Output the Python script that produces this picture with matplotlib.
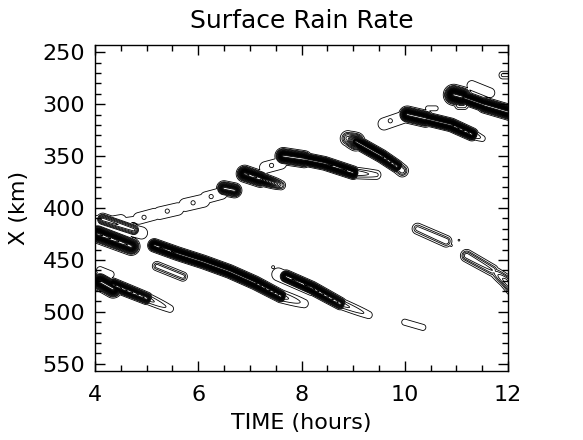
import numpy as np
import matplotlib.pyplot as plt
from matplotlib.ticker import MultipleLocator

# rain streaks, one row per straight piece:
# start time (h), start x (km), end time, end x, peak at start, peak at end, half-width (km)
seg_t0 = [4.15, 4.85, 5.25, 5.75, 6.15, 4.45, 5.10, 5.55, 6.05, 7.30,
          4.95, 5.40, 5.90, 6.25, 7.42,
          6.50, 6.90, 7.20,
          7.65, 8.05, 8.45, 9.00,
          8.90, 9.05, 9.55, 9.85,
          9.60, 9.72, 10.05, 10.40, 10.90, 11.30, 10.45,
          10.95, 11.10, 11.55, 11.05, 11.30, 11.90,
          4.15, 4.05, 4.05,
          5.15, 5.60, 6.10, 6.60, 7.10, 7.60,
          7.45, 7.55, 7.70, 8.20, 8.75,
          4.10, 4.35, 5.00, 4.10,
          5.20,
          10.25, 10.90, 11.05, 11.20, 11.70, 11.95,
          10.00]
seg_x0 = [415, 410, 405, 397, 390, 413, 407, 400, 393, 361,
          409, 403, 395, 389, 359,
          381, 367, 372,
          350, 353, 357, 366,
          333, 336, 350, 360,
          319, 316, 310, 314, 320, 329, 304,
          291, 293, 301, 301, 282, 272,
          411, 413, 425,
          436, 444, 452, 461, 472, 485,
          457, 464, 466, 477, 492,
          471, 474, 487, 460,
          456,
          420, 436, 431, 446, 460, 470,
          510]
seg_t1 = [4.50, 5.15, 5.60, 6.10, 6.45, 4.90, 5.30, 5.80, 6.20, 7.60,
          4.95, 5.40, 5.90, 6.25, 7.42,
          6.70, 7.20, 7.60,
          8.05, 8.45, 9.00, 9.45,
          9.05, 9.55, 9.85, 9.95,
          9.95, 9.72, 10.40, 10.90, 11.30, 11.50, 10.60,
          11.10, 11.55, 12.10, 11.15, 11.65, 12.00,
          4.75, 4.90, 4.70,
          5.60, 6.10, 6.60, 7.10, 7.60, 8.05,
          7.45, 8.20, 8.20, 8.75, 9.30,
          4.35, 5.00, 5.45, 4.30,
          5.70,
          10.80, 10.90, 11.05, 11.70, 11.95, 12.10,
          10.35]
seg_x1 = [412, 406, 401, 393, 386, 410, 405, 397, 390, 357,
          409, 403, 395, 389, 359,
          383, 372, 378,
          353, 357, 366, 368,
          336, 350, 360, 364,
          313, 316, 314, 320, 329, 333, 304,
          293, 301, 309, 301, 289, 272,
          421, 424, 437,
          444, 452, 461, 472, 485, 492,
          457, 478, 477, 492, 503,
          478, 487, 497, 464,
          466,
          432, 436, 431, 460, 470, 479,
          515]
seg_p0 = [2.2, 2.2, 2.2, 2.2, 2.2, 1.4, 1.4, 1.4, 1.4, 2.2,
          3.5, 3.5, 3.5, 3.5, 3.5,
          30, 45, 40,
          45, 45, 45, 6,
          10, 40, 40, 8,
          2, 3.5, 45, 45, 45, 5, 2,
          55, 45, 45, 4, 2, 3,
          15, 2, 50,
          40, 45, 45, 45, 45, 5,
          1.6, 2.2, 35, 40, 5,
          45, 40, 5, 2,
          5,
          5, 1.5, 1.3, 8, 3, 10,
          2]
seg_p1 = [2.2, 2.2, 2.2, 2.2, 2.2, 1.4, 1.4, 1.4, 1.4, 2.2,
          3.5, 3.5, 3.5, 3.5, 3.5,
          30, 40, 6,
          45, 45, 40, 3,
          30, 40, 30, 8,
          2, 3.5, 45, 45, 35, 2, 2,
          55, 45, 45, 4, 2, 3,
          12, 2, 40,
          45, 45, 45, 45, 30, 2,
          1.6, 2.2, 40, 25, 2,
          45, 25, 2, 2,
          5,
          6, 1.5, 1.3, 6, 10, 10,
          2]
seg_w = [4.5, 4.5, 4.8, 5, 4.5, 3.5, 3.5, 3.5, 3.5, 4.5,
         2.5, 2.5, 2.5, 2.5, 2.5,
         2.8, 3, 2.4,
         3, 2.4, 2.4, 3,
         3.5, 2.4, 2.4, 3,
         5, 2.5, 3, 2.4, 2.4, 2.5, 2,
         3.6, 2.4, 2.8, 2.5, 4, 2.5,
         2.6, 5, 3.2,
         2.4, 2.4, 2.4, 2.4, 2.4, 3.5,
         1.5, 5, 2.4, 2.4, 3,
         3.2, 2.4, 3, 3,
         2.5,
         3, 1.2, 1.2, 3, 3, 3,
         2.5]

levels = [1, 2.5, 4] + list(np.arange(6, 80, 2.5))

t = np.linspace(4, 12, 800)
x = np.linspace(243, 557, 700)
T, X = np.meshgrid(t, x)
HOUR = 50.0  # one hour is about as wide on the page as 50 km is tall
U = T * HOUR

rain = np.zeros_like(T)
for t0, x0, t1, x1, p0, p1, w in zip(seg_t0, seg_x0, seg_t1, seg_x1, seg_p0, seg_p1, seg_w):
    au, bu = t0 * HOUR, t1 * HOUR
    du, dv = bu - au, x1 - x0
    n2 = du * du + dv * dv
    if n2 > 0:
        s = np.clip(((U - au) * du + (X - x0) * dv) / n2, 0, 1)
    else:
        s = np.zeros_like(U)
    d2 = (U - au - s * du) ** 2 + (X - x0 - s * dv) ** 2
    amp = p0 + s * (p1 - p0)
    rain = np.maximum(rain, amp * np.exp(-0.5 * d2 / w ** 2))

plt.rcParams['font.family'] = 'DejaVu Sans'
fig = plt.figure(figsize=(5.83, 4.40), dpi=100)
ax = fig.add_axes([95 / 583, 1 - 371 / 440, 413 / 583, 326 / 440])

ax.contour(T, X, rain, levels=levels, colors='k', linewidths=0.6)

ax.set_xlim(4, 12)
ax.set_ylim(557, 243)
ax.xaxis.set_major_locator(MultipleLocator(2))
ax.xaxis.set_minor_locator(MultipleLocator(0.5))
ax.yaxis.set_major_locator(MultipleLocator(50))
ax.yaxis.set_minor_locator(MultipleLocator(10))
ax.tick_params(which='both', direction='in', top=True, right=True, labelsize=16)
ax.tick_params(which='major', length=7, width=1, pad=7)
ax.tick_params(which='minor', length=4, width=1)
ax.tick_params(axis='x', which='major', pad=10)
for sp in ax.spines.values():
    sp.set_linewidth(1)

ax.set_title('Surface Rain Rate', fontsize=18, pad=12)
ax.set_xlabel('TIME (hours)', fontsize=16, labelpad=6)
ax.set_ylabel('X (km)', fontsize=16, labelpad=10)

fig.savefig('out.png', dpi=100)
